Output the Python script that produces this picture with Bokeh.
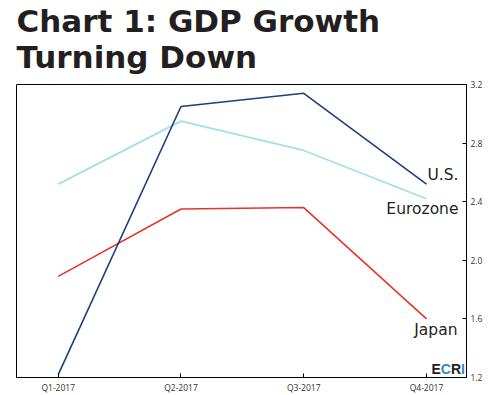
from bokeh.plotting import figure
from bokeh.models import Title, FixedTicker, Range1d
from bokeh.core.properties import value
from bokeh.embed import file_html
from bokeh.resources import INLINE

# ---- data ----
quarters = ["Q1-2017", "Q2-2017", "Q3-2017", "Q4-2017"]
us = [1.22, 3.05, 3.14, 2.52]
eurozone = [2.52, 2.95, 2.75, 2.42]
japan = [1.89, 2.35, 2.36, 1.60]
y_ticks = [1.2, 1.6, 2.0, 2.4, 2.8, 3.2]
y_tick_labels = ["1.2", "1.6", "2.0", "2.4", "2.8", "3.2"]
series_names = ["U.S.", "Eurozone", "Japan"]
title_lines = ["Chart 1: GDP Growth", "Turning Down"]
logo_letters = ["E", "C", "R", "I"]

x_idx = list(range(len(quarters)))

US_C = "#1d3f7d"
EZ_C = "#a3e0e2"
JP_C = "#e7352c"
LOGO_BLUE = "#2b8ad6"
TXT = "#231f20"

p = figure(width=495, height=395,
           x_range=Range1d(-0.34, 3.326), y_range=Range1d(1.2, 3.2),
           y_axis_location="right", title=title_lines[0],
           output_backend="svg", toolbar_location=None,
           min_border_left=16, min_border_right=29, min_border_bottom=17,
           min_border_top=0)

p.background_fill_color = "white"
p.border_fill_color = "white"
p.outline_line_color = "black"
p.outline_line_width = 1
p.outline_line_alpha = 1.0
p.xgrid.visible = False
p.ygrid.visible = False

# titles: spacer (closest to frame), second line, then main title on top
spacer = Title(text=" ", text_font="DejaVu Sans", text_font_size="5px", standoff=0)
p.add_layout(spacer, "above")
t2 = Title(text=title_lines[1], text_font="DejaVu Sans", text_font_size="31px",
           text_font_style="bold", text_color=TXT, align="left", offset=0,
           standoff=0, vertical_align="top")
p.add_layout(t2, "above")

p.title.text_font = "DejaVu Sans"
p.title.text_font_size = "31px"
p.title.text_font_style = "bold"
p.title.text_color = TXT
p.title.align = "left"
p.title.offset = 0
p.title.standoff = 0

# axes
for ax in (p.xaxis[0], p.yaxis[0]):
    ax.axis_line_color = "black"
    ax.axis_line_width = 1
    ax.major_tick_line_color = "black"
    ax.major_tick_in = 4
    ax.major_tick_out = 0
    ax.minor_tick_line_color = None
    ax.major_label_text_font = "Open Sans"
    ax.major_label_text_font_size = "8.5px"
    ax.major_label_text_color = "#333333"
    ax.major_label_standoff = 4

p.xaxis.ticker = FixedTicker(ticks=x_idx)
p.xaxis.major_label_overrides = {i: q for i, q in zip(x_idx, quarters)}
p.yaxis.ticker = FixedTicker(ticks=y_ticks)
p.yaxis.major_label_overrides = {t: l for t, l in zip(y_ticks, y_tick_labels)}

# lines
p.line(x_idx, eurozone, line_color=EZ_C, line_width=1.7)
p.line(x_idx, japan, line_color=JP_C, line_width=1.6)
p.line(x_idx, us, line_color=US_C, line_width=1.6)

# series labels anchored at last point
last = [us[-1], eurozone[-1], japan[-1]]
p.text(x=[x_idx[-1]] * 3, y=last, text=series_names,
       x_offset=[32, 32, 31], y_offset=[-9, 10, 11],
       text_align="right", text_baseline="alphabetic",
       text_font=value("DejaVu Sans"), text_font_size="15.5px", text_color=TXT)

# ECRI logo
p.text(x=[x_idx[-1]] * 4, y=[y_ticks[0]] * 4, text=logo_letters,
       x_offset=[5, 14.3, 24.4, 34.5], y_offset=[-9] * 4,
       text_align="left", text_baseline="alphabetic",
       text_font=value("Liberation Sans"), text_font_size="14px", text_font_style="bold",
       text_color=[TXT, LOGO_BLUE, TXT, LOGO_BLUE])

open("out.html", "w").write(file_html(p, INLINE))
